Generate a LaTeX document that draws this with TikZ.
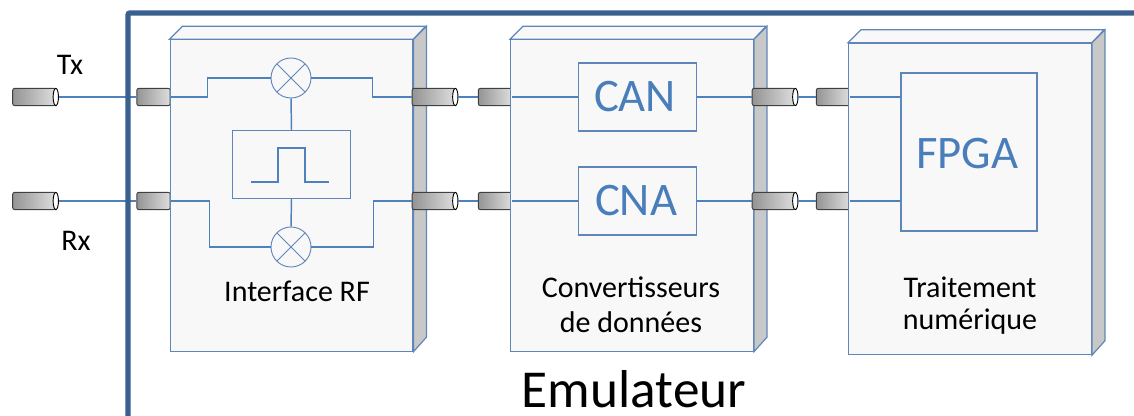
\documentclass[tikz,border=0pt]{standalone}
\usepackage{fontspec}
\setmainfont{Carlito}
\usetikzlibrary{shapes.geometric}

\definecolor{framecol}{HTML}{3A6090}
\definecolor{linecol}{HTML}{4F81BD}
\definecolor{edgecol}{HTML}{5F86B8}
\definecolor{textcol}{HTML}{4A7EBB}
\definecolor{facecol}{HTML}{F8F8F8}
\definecolor{sidecol}{HTML}{C8C8C8}

\tikzset{
    block/.style={rectangle, draw=edgecol, fill=facecol, line width=0.9pt, inner sep=0pt, minimum width=182pt, minimum height=233.5pt},
    innerbox/.style={rectangle, draw=edgecol, fill=facecol, line width=0.8pt, inner sep=0pt},
    mixer/.style={circle, draw=edgecol, fill=facecol, line width=0.7pt, inner sep=0pt, minimum size=30pt, path picture={
        \draw[edgecol, line width=0.7pt] (path picture bounding box.north west) -- (path picture bounding box.south east);
        \draw[edgecol, line width=0.7pt] (path picture bounding box.north east) -- (path picture bounding box.south west);}},
    plug/.style={rectangle, draw=black!75, rounded corners=1.5pt, left color=black!42, right color=black!13, line width=0.7pt, inner sep=0pt, minimum height=13pt},
    longplug/.style={plug, minimum width=32pt},
    stubplug/.style={plug, minimum width=25pt},
    plugcap/.style={ellipse, draw=black, fill=white, line width=0.7pt, inner sep=0pt, minimum width=4pt, minimum height=13pt},
    wire/.style={draw=linecol, line width=1.5pt},
    thinwire/.style={draw=linecol, line width=1.1pt},
    textlabel/.style={font=\fontsize{22.5}{22.5}\selectfont, text=black},
    bigtext/.style={font=\fontsize{35}{35}\selectfont, text=textcol},
}

\begin{document}
\begin{tikzpicture}[x=0.75pt, y=-0.75pt]
    \useasboundingbox (0,0) rectangle (1134,416);

    % Plugs that enter the blocks
    \foreach \name/\xpos/\ypos in {rfinA/153.5/97, rfinB/153.5/201, convinA/495/97, convinB/495/201, procinA/833/97, procinB/833/201}
        \node[stubplug] (\name) at (\xpos, \ypos) {};

    % Blocks
    \node[block] (rf) at (291.5, 195.5) {};
    \node[block] (conv) at (632, 195.5) {};
    \node[block] (proc) at (970, 199) {};
    \foreach \blk in {rf, conv, proc} {
        \draw[draw=edgecol, fill=facecol, line width=0.9pt] (\blk.north west) -- ++(13,-13) -- ++(243,0) -- (\blk.north east) -- cycle;
        \draw[draw=edgecol, fill=sidecol, line width=0.9pt] (\blk.north east) -- ++(13,-13) -- ++(0,311) -- (\blk.south east) -- cycle;
    }

    % Outer plugs
    \foreach \name/\xpos/\ypos in {tx/34/97, rx/34/201, rfoutA/433.5/97, rfoutB/433.5/201, convoutA/773.5/97, convoutB/773.5/201} {
        \node[longplug] (\name) at (\xpos, \ypos) {};
        \node[plugcap] (\name cap) at (\name.east) {};
    }

    % Inside the blocks
    \node[mixer] (mixA) at (291, 78) {};
    \node[mixer] (mixB) at (291, 247) {};
    \node[innerbox, minimum width=89pt, minimum height=50.5pt] (filter) at (291.5, 164.5) {};
    \node[innerbox, minimum width=89pt, minimum height=51pt] (can) at (637.5, 97) {};
    \node[innerbox, minimum width=89pt, minimum height=51pt] (cna) at (637.5, 201) {};
    \node[bigtext] (cantext) at (635, 97) {CAN};
    \node[bigtext] (cnatext) at (636, 201) {CNA};
    \node[innerbox, minimum width=102pt, minimum height=118.5pt] (fpga) at (969, 152) {};
    \node[bigtext] (fpgatext) at (967, 154) {FPGA};

    % Pulse
    \coordinate (pulseA) at (251, 182);
    \coordinate (pulseB) at (329, 182);
    \draw[wire] (pulseA) -- (278, 182) -- (278, 148) -- (305, 148) -- (305, 182) -- (pulseB);

    % Wires
    \draw[wire] (txcap.east) -- (rfinA.west);
    \draw[wire] (rxcap.east) -- (rfinB.west);
    \draw[thinwire] (rfinA.east) -- ++(37,0) |- (mixA.west);
    \draw[thinwire] (rfinB.east) -- ++(39,0) |- (mixB.west);
    \draw[thinwire] (mixA.east) -- ++(61,0) |- (rfoutA.west);
    \draw[thinwire] (mixB.east) -- ++(62,0) |- (rfoutB.west);
    \draw[thinwire] (mixA.south) -- (filter.north);
    \draw[thinwire] (filter.south) -- (mixB.north);
    \draw[wire] (rfoutAcap.east) -- (convinA.west);
    \draw[wire] (rfoutBcap.east) -- (convinB.west);
    \draw[wire] (convinA.east) -- (can.west);
    \draw[wire] (convinB.east) -- (cna.west);
    \draw[wire] (can.east) -- (convoutA.west);
    \draw[wire] (cna.east) -- (convoutB.west);
    \draw[wire] (convoutAcap.east) -- (procinA.west);
    \draw[wire] (convoutBcap.east) -- (procinB.west);
    \draw[wire] (procinA.east) -- (procinA.east -| fpga.west);
    \draw[wire] (procinB.east) -- (procinB.east -| fpga.west);

    % Frame
    \coordinate (frameA) at (128, 416);
    \coordinate (frameB) at (128, 13);
    \coordinate (frameC) at (1134, 13);
    \draw[draw=framecol, line width=4pt, rounded corners=1.5pt] (frameA) -- (frameB) -- (frameC);

    % Labels
    \node[textlabel] (txlabel) at (70, 65) {Tx};
    \node[textlabel] (rxlabel) at (76, 241) {Rx};
    \node[textlabel] (rflabel) at (297, 291) {Interface RF};
    \node[textlabel] (convlabelA) at (631, 287) {Convertisseurs};
    \node[textlabel] (convlabelB) at (631, 322) {de données};
    \node[textlabel] (proclabelA) at (970, 287) {Traitement};
    \node[textlabel] (proclabelB) at (970, 322) {numérique};
    \node[font=\fontsize{40}{40}\selectfont, inner sep=0pt] (title) at (634, 389) {Emulateur};
\end{tikzpicture}
\end{document}
